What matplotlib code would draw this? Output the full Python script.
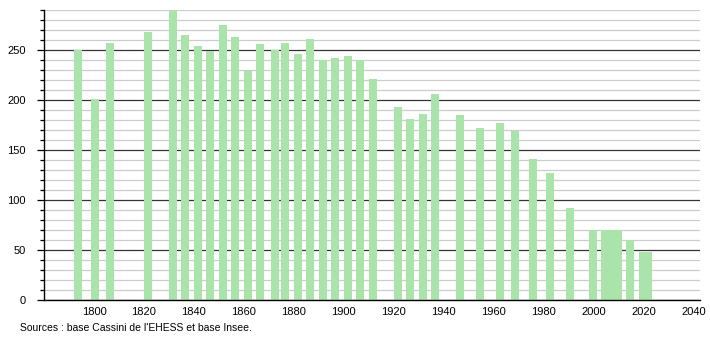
import matplotlib.pyplot as plt
from matplotlib.ticker import MultipleLocator

years = [1793, 1800, 1806, 1821, 1831, 1836, 1841, 1846, 1851, 1856,
         1861, 1866, 1872, 1876, 1881, 1886, 1891, 1896, 1901, 1906,
         1911, 1921, 1926, 1931, 1936, 1946, 1954, 1962, 1968, 1975,
         1982, 1990, 1999, 2004, 2006, 2007, 2008, 2009, 2014, 2019,
         2020, 2021]
population = [250, 201, 257, 268, 289, 265, 254, 249, 275, 263,
              229, 256, 250, 257, 246, 261, 240, 242, 244, 240,
              221, 193, 181, 186, 206, 185, 172, 177, 169, 141,
              127, 92, 70, 70, 70, 70, 70, 70, 60, 48,
              48, 48]
xticks = list(range(1800, 2041, 20))
source = "Sources : base Cassini de l'EHESS et base Insee."

plt.rcParams['font.family'] = ['Liberation Sans Narrow', 'Liberation Sans', 'DejaVu Sans']

fig = plt.figure(figsize=(7.1, 3.4), dpi=100)
ax = fig.add_axes([44 / 710, 40 / 340, 656 / 710, 290 / 340])

# bars (slightly right of the census year, like the original)
ax.bar([y + 0.5 for y in years], population, width=3.2,
       color='#aae4aa', zorder=2)

ax.set_xlim(1780, 2042.5)
ax.set_ylim(0, 290)

# grid: light every 10, dark every 50
ax.yaxis.set_major_locator(MultipleLocator(50))
ax.yaxis.set_minor_locator(MultipleLocator(10))
ax.grid(axis='y', which='minor', color='#cccccc', linewidth=0.9, zorder=0)
ax.grid(axis='y', which='major', color='#333333', linewidth=0.9, zorder=1)

ax.set_xticks(xticks)
ax.tick_params(axis='x', length=0, labelsize=8, pad=5)
ax.tick_params(axis='y', which='major', length=5, width=0.9, labelsize=8, pad=8)
ax.tick_params(axis='y', which='minor', length=3, width=0.9)

for s in ['top', 'right']:
    ax.spines[s].set_visible(False)
ax.spines['left'].set_linewidth(1)
ax.spines['bottom'].set_linewidth(1)

fig.text(20 / 710, 1 - 328 / 340, source, fontsize=7.5, va='center', ha='left')

fig.savefig('out.png', dpi=100)
